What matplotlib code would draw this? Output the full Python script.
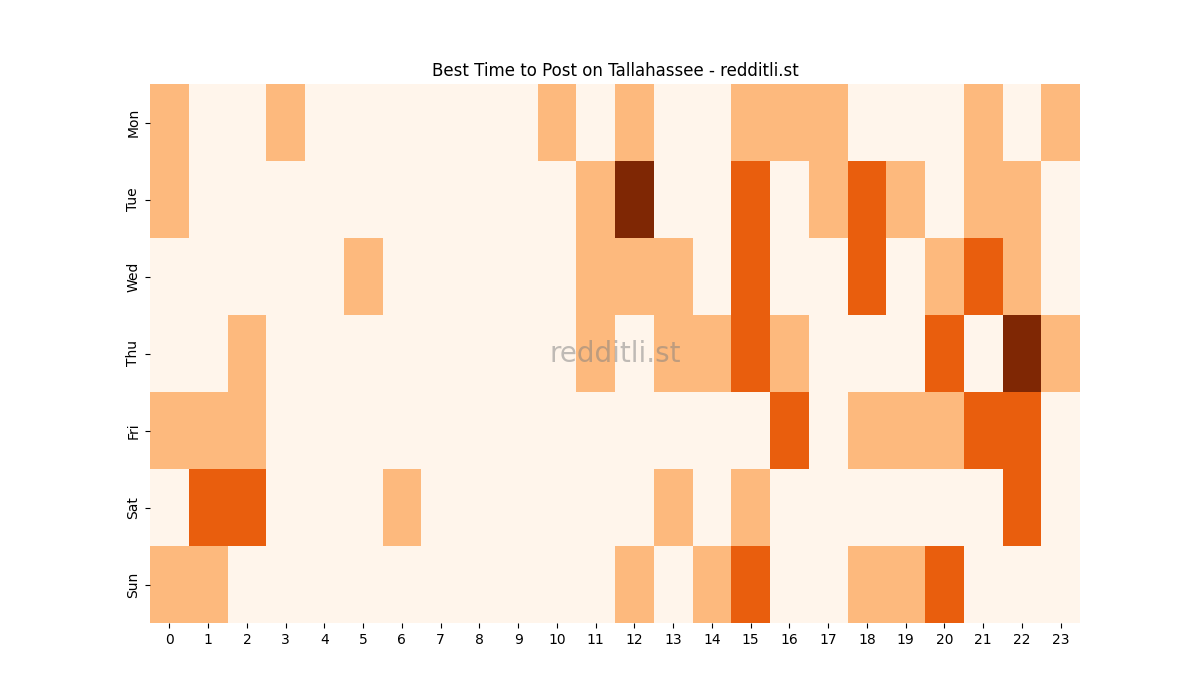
import matplotlib
matplotlib.use("Agg")
import matplotlib.pyplot as plt
import numpy as np

days = ["Mon", "Tue", "Wed", "Thu", "Fri", "Sat", "Sun"]
hours = [str(h) for h in range(24)]

mon = [1,0,0,1,0,0,0,0,0,0,1,0,1,0,0,1,1,1,0,0,0,1,0,1]
tue = [1,0,0,0,0,0,0,0,0,0,0,1,3,0,0,2,0,1,2,1,0,1,1,0]
wed = [0,0,0,0,0,1,0,0,0,0,0,1,1,1,0,2,0,0,2,0,1,2,1,0]
thu = [0,0,1,0,0,0,0,0,0,0,0,1,0,1,1,2,1,0,0,0,2,0,3,1]
fri = [1,1,1,0,0,0,0,0,0,0,0,0,0,0,0,0,2,0,1,1,1,2,2,0]
sat = [0,2,2,0,0,0,1,0,0,0,0,0,0,1,0,1,0,0,0,0,0,0,2,0]
sun = [1,1,0,0,0,0,0,0,0,0,0,0,1,0,1,2,0,0,1,1,2,0,0,0]

data = np.array([mon, tue, wed, thu, fri, sat, sun])

fig, ax = plt.subplots(figsize=(12, 7), dpi=100)
ax.pcolormesh(data, cmap="Oranges", vmin=0, vmax=3)
ax.set_xlim(0, len(hours))
ax.set_ylim(len(days), 0)
ax.set_xticks(np.arange(len(hours)) + 0.5)
ax.set_xticklabels(hours)
ax.set_yticks(np.arange(len(days)) + 0.5)
ax.set_yticklabels(days, rotation=90, va="center")
for s in ax.spines.values():
    s.set_visible(False)
ax.set_title("Best Time to Post on Tallahassee - redditli.st")
ax.text(0.5, 0.5, "redditli.st", transform=ax.transAxes, ha="center", va="center",
        fontsize=20, color="gray", alpha=0.5)
fig.savefig("out.png", dpi=100)
